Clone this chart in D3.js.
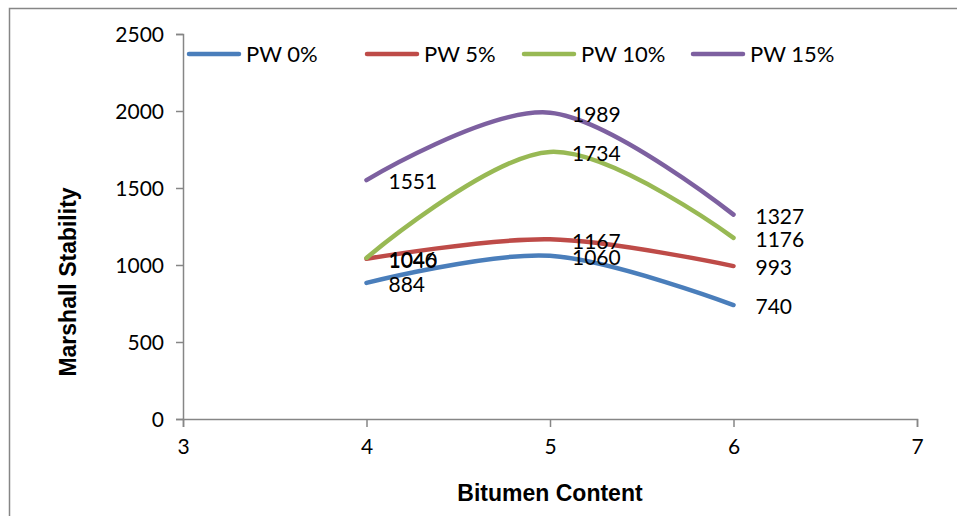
<!DOCTYPE html>
<html><head><meta charset="utf-8">
<script src="https://cdn.jsdelivr.net/npm/d3@7"></script>
<style>body{margin:0;background:#fff}svg{display:block}</style>
</head><body>
<script>
const bitumen = [4, 5, 6];
const seriesNames = ["PW 0%", "PW 5%", "PW 10%", "PW 15%"];
const pw0 = [884, 1060, 740];
const pw5 = [1040, 1167, 993];
const pw10 = [1046, 1734, 1176];
const pw15 = [1551, 1989, 1327];
const colors = ["#4A7EBB", "#BE4B48", "#98B954", "#7D60A0"];
const xTicks = [3, 4, 5, 6, 7];
const yTicks = [0, 500, 1000, 1500, 2000, 2500];
const seriesValues = [pw0, pw5, pw10, pw15];

const W = 957, H = 516;
const svg = d3.select("body").append("svg").attr("width", W).attr("height", H);
const font = "Lato, 'Open Sans', sans-serif";
const titleFont = "'Liberation Sans', Arial, sans-serif";

svg.append("rect").attr("x", 9.5).attr("y", 8.5).attr("width", W + 10).attr("height", H + 10)
  .attr("fill", "none").attr("stroke", "#868686").attr("stroke-width", 1.5);

const x = d3.scaleLinear().domain([3, 7]).range([183, 917]);
const y = d3.scaleLinear().domain([0, 2500]).range([419, 34]);

const xAxis = svg.append("g").attr("transform", `translate(0,${y(0)})`)
  .call(d3.axisBottom(x).tickValues(xTicks).tickSize(8).tickSizeOuter(8).tickPadding(8).tickFormat(d3.format("d")));
const yAxis = svg.append("g").attr("transform", `translate(${x(3)},0)`)
  .call(d3.axisLeft(y).tickValues(yTicks).tickSize(7).tickSizeOuter(7).tickPadding(6).tickFormat(d3.format("d")));
[xAxis, yAxis].forEach(a => {
  a.selectAll("path,line").attr("stroke", "#868686").attr("stroke-width", 1.5);
  a.selectAll("text").attr("font-family", font).attr("font-size", 21).attr("fill", "#000");
});
xAxis.selectAll("text").attr("dy", "0.9em");
yAxis.selectAll("text").attr("dy", "0.35em").attr("dx", "-6");

const line = d3.line().x((d, i) => x(bitumen[i])).y(d => y(d)).curve(d3.curveCardinal.tension(0));

seriesValues.forEach((vals, s) => {
  svg.append("path").datum(vals).attr("d", line).attr("fill", "none")
    .attr("stroke", colors[s]).attr("stroke-width", 4.5).attr("stroke-linecap", "round");
});
seriesValues.forEach((vals, s) => {
  svg.append("g").selectAll("text").data(vals).join("text")
    .attr("x", (d, i) => x(bitumen[i]) + 22).attr("y", d => y(d) + 2)
    .attr("dy", "0.35em").attr("font-family", font).attr("font-size", 21).attr("fill", "#000")
    .text(d => d);
});

// legend
const legendX = [187, 365, 522, 691];
seriesNames.forEach((n, s) => {
  const g = svg.append("g").attr("transform", `translate(${legendX[s]},54)`);
  g.append("line").attr("x1", 2).attr("x2", 52).attr("y1", 0).attr("y2", 0)
    .attr("stroke", colors[s]).attr("stroke-width", 4.5).attr("stroke-linecap", "round");
  g.append("text").attr("x", 59).attr("y", 0).attr("dy", "0.35em")
    .attr("font-family", font).attr("font-size", 22).attr("fill", "#000").text(n);
});

svg.append("text").attr("x", 550).attr("y", 493).attr("dy", "0.35em").attr("text-anchor", "middle")
  .attr("font-family", titleFont).attr("font-weight", "bold").attr("font-size", 23).text("Bitumen Content");
svg.append("text").attr("transform", "translate(68,282) rotate(-90)").attr("dy", "0.35em").attr("text-anchor", "middle")
  .attr("font-family", titleFont).attr("font-weight", "bold").attr("font-size", 23).text("Marshall Stability");
</script>
</body></html>
